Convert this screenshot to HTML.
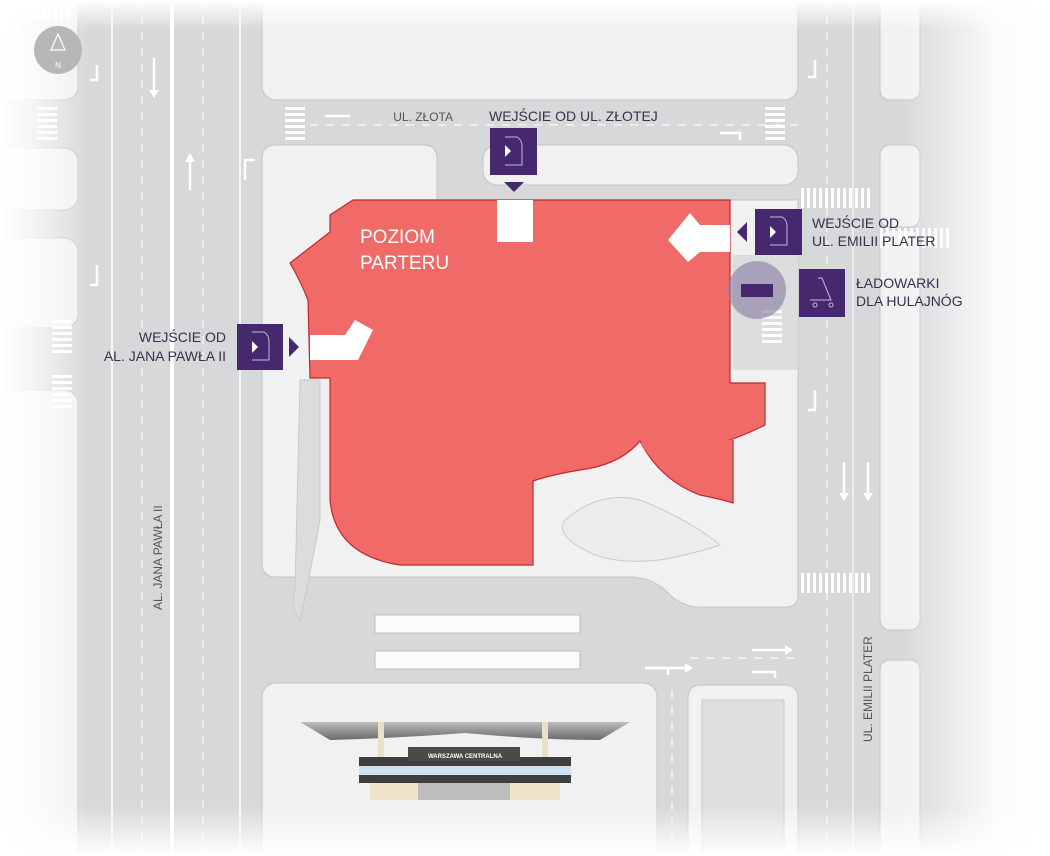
<!DOCTYPE html>
<html><head><meta charset="utf-8"><style>
html,body{margin:0;padding:0;background:#fff;}
svg{display:block;font-family:"Liberation Sans",sans-serif;}
</style></head><body>
<svg width="1050" height="856" viewBox="0 0 1050 856" xmlns="http://www.w3.org/2000/svg">
<defs>
<linearGradient id="fl" x1="0" x2="1"><stop offset="0" stop-color="#fff" stop-opacity="1"/><stop offset="0.4" stop-color="#fff" stop-opacity="0.7"/><stop offset="1" stop-color="#fff" stop-opacity="0"/></linearGradient>
<linearGradient id="fr" x1="1" x2="0"><stop offset="0" stop-color="#fff" stop-opacity="1"/><stop offset="0.35" stop-color="#fff" stop-opacity="0.9"/><stop offset="1" stop-color="#fff" stop-opacity="0"/></linearGradient>
<linearGradient id="ft" x1="0" y1="0" x2="0" y2="1"><stop offset="0" stop-color="#fff" stop-opacity="1"/><stop offset="1" stop-color="#fff" stop-opacity="0"/></linearGradient>
<linearGradient id="fb" x1="0" y1="1" x2="0" y2="0"><stop offset="0" stop-color="#fff" stop-opacity="1"/><stop offset="1" stop-color="#fff" stop-opacity="0"/></linearGradient>
<linearGradient id="roof" x1="0" y1="0" x2="0" y2="1"><stop offset="0" stop-color="#bdbdbd"/><stop offset="1" stop-color="#6a6a6a"/></linearGradient>
</defs>
<rect x="0" y="0" width="1050" height="856" fill="#d7d8da"/>
<g fill="#f1f1f2" stroke="#c4c5c7" stroke-width="1">
<rect x="262" y="-20" width="536" height="120" rx="14"/>
<rect x="-20" y="-20" width="98" height="120" rx="14"/>
<rect x="-20" y="148" width="98" height="62" rx="14"/>
<rect x="-20" y="238" width="98" height="90" rx="14"/>
<rect x="-20" y="390" width="98" height="480" rx="14"/>
<path d="M276 145 H423 Q437 145 437 159 V200 H798 V595 Q798 607 786 607 H700 Q680 607 665 590 Q650 577 630 577 H276 Q262 577 262 563 V159 Q262 145 276 145Z"/>
<rect x="483" y="145" width="315" height="40" rx="14"/>
<rect x="262" y="683" width="395" height="190" rx="14"/>
<rect x="688" y="685" width="110" height="190" rx="12"/>
<rect x="880" y="-20" width="40" height="120" rx="10"/>
<rect x="880" y="145" width="40" height="82" rx="10"/>
<rect x="880" y="230" width="40" height="400" rx="10"/>
<rect x="880" y="660" width="40" height="210" rx="10"/>
</g>
<rect x="733" y="255" width="64" height="115" fill="#dcdddf"/>
<g stroke="#fff" stroke-width="1.5">
<line x1="112" y1="0" x2="112" y2="856"/>
<line x1="172" y1="0" x2="172" y2="856" stroke-width="4"/>
<line x1="240" y1="0" x2="240" y2="856"/>
<line x1="142" y1="0" x2="142" y2="856" stroke-dasharray="8 8" stroke-width="1"/>
<line x1="203" y1="0" x2="203" y2="856" stroke-dasharray="8 8" stroke-width="1"/>
<line x1="827" y1="0" x2="827" y2="856" stroke-dasharray="8 8" stroke-width="1"/>
<line x1="853" y1="0" x2="853" y2="856" stroke-width="1"/>
<line x1="310" y1="125" x2="800" y2="125" stroke-dasharray="8 8" stroke-width="1"/>
<line x1="690" y1="658" x2="800" y2="658" stroke-dasharray="8 8" stroke-width="1"/>
<line x1="672" y1="690" x2="672" y2="856" stroke-dasharray="8 8" stroke-width="1"/>
</g>
<g fill="#fff">
<g id="cwv"><rect x="0" y="0" width="20" height="3"/><rect x="0" y="6" width="20" height="3"/><rect x="0" y="12" width="20" height="3"/><rect x="0" y="18" width="20" height="3"/><rect x="0" y="24" width="20" height="3"/><rect x="0" y="30" width="20" height="3"/></g>
<use href="#cwv" x="285" y="107"/><use href="#cwv" x="765" y="107"/>
<use href="#cwv" x="37" y="107"/><use href="#cwv" x="52" y="320"/><use href="#cwv" x="52" y="375"/>
<use href="#cwv" x="762" y="310"/>
<g id="cwh"><rect x="0" y="0" width="3" height="20"/><rect x="6" y="0" width="3" height="20"/><rect x="12" y="0" width="3" height="20"/><rect x="18" y="0" width="3" height="20"/><rect x="24" y="0" width="3" height="20"/><rect x="30" y="0" width="3" height="20"/><rect x="36" y="0" width="3" height="20"/><rect x="42" y="0" width="3" height="20"/><rect x="48" y="0" width="3" height="20"/><rect x="54" y="0" width="3" height="20"/><rect x="60" y="0" width="3" height="20"/><rect x="66" y="0" width="3" height="20"/></g>
<use href="#cwh" x="801" y="573"/><use href="#cwh" x="801" y="188"/><use href="#cwh" x="880" y="228"/>
</g>
<g stroke="#fff" stroke-width="2.5" fill="none">
<line x1="154" y1="58" x2="154" y2="92"/><line x1="190" y1="190" x2="190" y2="160"/>
<line x1="844" y1="462" x2="844" y2="495"/><line x1="868" y1="462" x2="868" y2="495"/>
<path d="M97 65 V80 H90"/><path d="M97 265 V285 H90"/><path d="M815 60 V77 H808"/><path d="M815 390 V410 H808"/>
<path d="M245 180 V160 H255"/><path d="M325 116 H350"/><path d="M720 133 H740 V140"/>
<path d="M645 668 H685"/><path d="M752 650 H785"/><path d="M752 672 H775 V678"/><path d="M645 668 H668 V675"/>
</g>
<g fill="#fff">
<path d="M149 90 L159 90 L154 98Z"/><path d="M185 162 L195 162 L190 153Z"/><path d="M839 493 L849 493 L844 501Z"/><path d="M863 493 L873 493 L868 501Z"/>
<path d="M785 645 L785 655 L793 650Z"/><path d="M685 663 L685 673 L693 668Z"/>
</g>
<path d="M565 520 Q600 490 640 500 Q690 520 720 545 Q690 555 660 560 Q610 565 585 550 Q555 535 565 520Z" fill="#ececec" stroke="#c9c9c9"/>
<path d="M300 380 L320 380 L320 520 Q305 600 300 620 Q290 610 295 590 Z" fill="#dcdcdd" stroke="#c9c9c9"/>
<g fill="#fbfbfb" stroke="#bdbdbd"><rect x="375" y="615" width="205" height="18"/><rect x="375" y="651" width="205" height="18"/></g>
<rect x="702" y="700" width="82" height="160" fill="#dedfe0" stroke="#c8c8c8"/>
<path d="M353 200 L730 200 L730 383 L765 383 L765 425 Q735 440 712 445 Q680 450 660 455 Q648 448 640 441 Q620 465 580 470 Q550 475 533 481 L533 565 L400 565 Q335 555 330 500 L330 378 L310 378 L308 300 Q300 280 290 263 L330 232 L330 215 Z" fill="#f06a67" stroke="#c0272d" stroke-width="1.2"/>
<path d="M640 441 Q660 480 700 495 Q725 500 733 503 L733 440" fill="#f06a67" stroke="#c0272d" stroke-width="1.2"/>
<path d="M641 443 Q655 470 700 490 L731 498 L731 443 Z" fill="#f06a67"/>
<g fill="#fff">
<rect x="497" y="200" width="36" height="42"/>
<path d="M310 335 L345 335 L355 320 L373 330 L358 360 L310 360 Z"/>
<path d="M730 225 L700 225 L690 213 L668 240 L688 262 L700 252 L730 252 Z"/>
</g>
<circle cx="757" cy="290" r="29" fill="#8e7fa6" fill-opacity="0.65"/>
<rect x="741" y="284" width="32" height="13" fill="#46286e"/>
<g fill="#46286e">
<rect x="490" y="128" width="47" height="47"/><path d="M504 182 L524 182 L514 192Z"/>
<rect x="237" y="324" width="46" height="46"/><path d="M289 337 L289 357 L299 347Z"/>
<rect x="755" y="209" width="47" height="46"/><path d="M747 222 L747 242 L737 232Z"/>
<rect x="799" y="269" width="46" height="48"/>
</g>
<g fill="none" stroke="#c8b8e0" stroke-width="1">
<path d="M505 137 H517 Q522 140 522 146 V165 H505"/><path d="M252 332 H264 Q269 335 269 341 V360 H252"/><path d="M770 217 H782 Q787 220 787 226 V245 H770"/>
<path d="M818 278 L822 278 L831 300 L810 300"/><circle cx="815" cy="305" r="2"/><circle cx="831" cy="305" r="2"/>
</g>
<g fill="#fff"><path d="M505 145 L511 151 L505 157Z"/><path d="M252 341 L258 347 L252 353Z"/><path d="M770 226 L776 232 L770 238Z"/></g>
<path d="M300 722 L630 722 L600 740 Q540 740 465 733 Q400 738 330 740 Z" fill="url(#roof)"/>
<rect x="378" y="722" width="6" height="35" fill="#e8e0c8"/><rect x="542" y="722" width="6" height="35" fill="#e8e0c8"/>
<rect x="359" y="757" width="212" height="26" fill="#3f3f3f"/>
<rect x="359" y="766" width="212" height="9" fill="#cfe1f3"/>
<rect x="408" y="747" width="112" height="14" fill="#4a4a4a"/>
<rect x="370" y="783" width="190" height="17" fill="#bdbdbd"/>
<rect x="370" y="783" width="48" height="17" fill="#efe3c8"/><rect x="510" y="783" width="50" height="17" fill="#efe3c8"/>
<text x="465" y="758" font-size="6" fill="#fff" text-anchor="middle" font-weight="bold">WARSZAWA CENTRALNA</text>
<rect x="0" y="0" width="90" height="856" fill="url(#fl)"/>
<rect x="900" y="0" width="150" height="856" fill="url(#fr)"/>
<rect x="0" y="0" width="1050" height="30" fill="url(#ft)"/>
<rect x="0" y="806" width="1050" height="50" fill="url(#fb)"/>
<circle cx="58" cy="50" r="24" fill="#b6b7b9"/>
<path d="M58 34 L65 50 L51 50 Z" fill="none" stroke="#fff" stroke-width="1.2"/>
<text x="58" y="68" font-size="8" fill="#fff" text-anchor="middle">N</text>
<g fill="#3a2f4c" font-size="14">
<text x="453" y="121" font-size="12" fill="#555" text-anchor="end">UL. ZŁOTA</text>
<text x="489" y="121">WEJŚCIE OD UL. ZŁOTEJ</text>
<text x="226" y="342" text-anchor="end">WEJŚCIE OD</text>
<text x="226" y="361" text-anchor="end">AL. JANA PAWŁA II</text>
<text x="812" y="228">WEJŚCIE OD</text>
<text x="812" y="246">UL. EMILII PLATER</text>
<text x="856" y="288">ŁADOWARKI</text>
<text x="856" y="306">DLA HULAJNÓG</text>
</g>
<g fill="#fff" font-size="19"><text x="360" y="243">POZIOM</text><text x="360" y="269">PARTERU</text></g>
<text transform="translate(162,610) rotate(-90)" font-size="12" fill="#555">AL. JANA PAWŁA II</text>
<text transform="translate(872,742) rotate(-90)" font-size="12" fill="#555">UL. EMILII PLATER</text>
</svg>
</body></html>
